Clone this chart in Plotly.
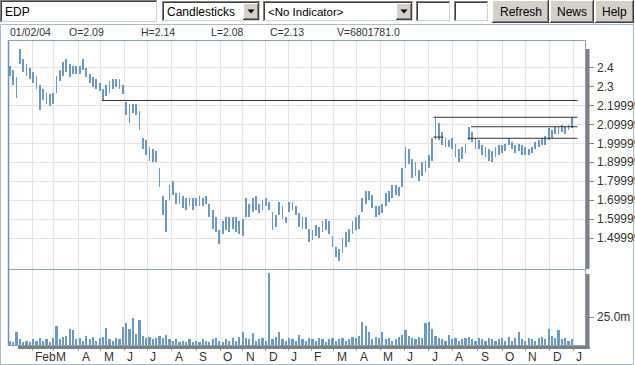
import numpy as np
import pandas as pd
import plotly.graph_objects as go

W, H = 635, 365
def X(px): return px / W
def Y(py): return 1 - py / H

# ---------------- data ----------------
holidays = ["2004-02-24", "2004-04-09", "2004-04-12", "2004-06-10", "2004-10-05",
            "2004-11-01", "2004-12-01", "2004-12-08", "2004-12-24",
            "2005-03-25", "2005-03-28", "2005-12-26"]

# one mark per 3 trading days (high / low in EUR, volume in millions)
highs = [2.41, 2.39, 2.35, 2.50, 2.45, 2.42, 2.40, 2.38, 2.36, 2.31,
         2.29, 2.27, 2.26, 2.27, 2.36, 2.39, 2.43, 2.45, 2.42, 2.41,
         2.41, 2.41, 2.45, 2.40, 2.37, 2.35, 2.34, 2.32,
         2.29, 2.31, 2.33, 2.34, 2.34, 2.34, 2.31, 2.22, 2.21, 2.21,
         2.21, 2.17, 2.03, 2.02, 1.98, 1.97, 1.96, 1.87, 1.72, 1.70,
         1.78, 1.80, 1.74, 1.74, 1.72, 1.71, 1.71, 1.71, 1.71, 1.72,
         1.71, 1.72, 1.68, 1.65, 1.61, 1.54, 1.59, 1.61, 1.61, 1.61,
         1.61,
         1.59, 1.60, 1.71, 1.68, 1.71, 1.72, 1.68, 1.70, 1.71,
         1.69, 1.64, 1.62, 1.69, 1.67, 1.61, 1.69, 1.69, 1.67, 1.63,
         1.61, 1.61, 1.55, 1.54, 1.57, 1.56, 1.59, 1.60, 1.59, 1.51,
         1.45, 1.44, 1.50, 1.53, 1.55, 1.59, 1.61, 1.62, 1.71, 1.75,
         1.75,
         1.73, 1.67, 1.67, 1.68, 1.74, 1.75, 1.78, 1.78,
         1.77, 1.87, 1.98, 1.97, 1.92, 1.90, 1.86, 1.90, 1.91, 1.94,
         2.03, 2.14, 2.11, 2.06, 2.03, 2.02, 2.03, 2.00, 1.97, 1.98,
         2.00, 2.09, 2.06, 2.03, 2.02, 1.99, 1.98, 1.97, 1.96, 1.98,
         1.99, 1.99, 2.00,
         2.03, 2.01, 1.99, 2.00, 1.99, 1.98,
         1.97, 1.98, 2.01, 2.02, 2.03, 2.04, 2.08, 2.07, 2.09, 2.09,
         2.10, 2.09, 2.10, 2.14]

lows = [2.36, 2.31, 2.24, 2.42, 2.38, 2.36, 2.34, 2.32, 2.29, 2.18,
        2.23, 2.21, 2.20, 2.21, 2.27, 2.33, 2.36, 2.38, 2.35, 2.37,
        2.37, 2.37, 2.39, 2.35, 2.32, 2.30, 2.29, 2.28,
        2.23, 2.25, 2.27, 2.29, 2.30, 2.29, 2.26, 2.15, 2.11, 2.16,
        2.15, 2.07, 1.97, 1.94, 1.91, 1.90, 1.90, 1.77, 1.62, 1.53,
        1.70, 1.73, 1.68, 1.68, 1.66, 1.65, 1.67, 1.65, 1.67, 1.67,
        1.67, 1.68, 1.61, 1.55, 1.53, 1.47, 1.52, 1.54, 1.53, 1.55,
        1.53,
        1.52, 1.51, 1.61, 1.61, 1.64, 1.65, 1.63, 1.65, 1.67,
        1.65, 1.54, 1.56, 1.62, 1.60, 1.58, 1.64, 1.65, 1.62, 1.56,
        1.55, 1.55, 1.48, 1.49, 1.51, 1.50, 1.53, 1.54, 1.52, 1.45,
        1.40, 1.38, 1.42, 1.45, 1.48, 1.52, 1.54, 1.55, 1.64, 1.68,
        1.70,
        1.66, 1.61, 1.62, 1.63, 1.67, 1.69, 1.71, 1.73,
        1.72, 1.77, 1.87, 1.89, 1.82, 1.83, 1.80, 1.83, 1.85, 1.87,
        1.91, 2.02, 2.02, 1.99, 1.98, 1.98, 1.97, 1.93, 1.90, 1.92,
        1.95, 2.02, 2.01, 1.97, 1.97, 1.94, 1.93, 1.91, 1.90, 1.93,
        1.94, 1.95, 1.96,
        1.99, 1.97, 1.95, 1.96, 1.94, 1.94,
        1.94, 1.95, 1.97, 1.98, 1.99, 1.99, 2.02, 2.03, 2.05, 2.05,
        2.06, 2.05, 2.07, 2.08]

volumes = [4, 3, 12, 5, 3, 4, 3, 5, 4, 6,
           4, 5, 3, 6, 17, 5, 7, 8, 14, 13,
           5, 6, 4, 8, 5, 7, 4, 6,
           7, 15, 5, 4, 6, 5, 16, 20, 14, 24,
           10, 22, 8, 6, 7, 5, 6, 8, 6, 9,
           5, 4, 5, 3, 4, 3, 5, 3, 4, 3,
           5, 4, 3, 5, 6, 4, 3, 5, 4, 6,
           4,
           7, 12, 6, 5, 11, 4, 5, 6, 4,
           64, 5, 7, 12, 5, 4, 6, 5, 4, 9,
           5, 4, 6, 5, 4, 6, 5, 3, 5, 6,
           4, 5, 6, 4, 5, 7, 6, 8, 21, 17,
           12,
           5, 7, 6, 12, 5, 6, 4, 5,
           7, 9, 13, 8, 6, 5, 7, 6, 20, 21,
           14, 8, 6, 5, 4, 9, 5, 6, 4, 5,
           6, 7, 5, 4, 6, 5, 4, 6, 5, 4,
           5, 6, 4,
           7, 4, 6, 12, 5, 4,
           6, 5, 4, 6, 7, 5, 14, 8, 6, 13,
           5, 6, 4, 5]

month_starts = pd.date_range("2004-02-01", "2006-01-01", freq="MS")
month_labels = ["Feb", "M", "A", "M", "J", "J", "A", "S", "O", "N", "D", "J",
                "F", "M", "A", "M", "J", "J", "A", "S", "O", "N", "D", "J"]

price_ticks = [2.4, 2.3, 2.2, 2.1, 2.0, 1.9, 1.8, 1.7, 1.6, 1.5]
price_tick_text = ["2.4", "2.3", "2.19999", "2.09999", "1.99999", "1.89999",
                   "1.79999", "1.69999", "1.59999", "1.49999"]
vol_ticks = [25]
vol_tick_text = ["25.0m"]

# drawn support / resistance lines
line_levels = [2.228, 2.139, 2.034, 2.089, 2.028]
line_starts = ["2004-05-04", "2005-07-07", "2005-07-07", "2005-08-24", "2005-08-19"]
line_ends = ["2006-01-06", "2006-01-06", "2005-07-20", "2006-01-06", "2006-01-06"]

info_texts = ["01/02/04", "O=2.09", "H=2.14", "L=2.08", "C=2.13", "V=6801781.0"]

# ---------------- scales ----------------
tdays = pd.bdate_range("2004-01-02", "2005-12-30", freq="C", holidays=holidays)

def pos(d):
    d = pd.Timestamp(d)
    if d <= tdays[-1]:
        return int(tdays.searchsorted(d))
    return len(tdays) - 1 + int(np.busday_count(tdays[-1].date(), d.date()))

xpos = np.arange(len(tdays))[1::3]
n = len(xpos)
assert len(highs) == n and len(lows) == n and len(volumes) == n, (n, len(highs), len(lows), len(volumes))
highs = np.array(highs); lows = np.array(lows)
month_pos = [pos(d) for d in month_starts]

BLUE = "#6a99c2"
GRID = "#e3e3e3"
BORDER = "#86a2be"
TXT = "#333333"
FONT = "Liberation Sans, Arial, sans-serif"

fig = go.Figure()
fig.add_trace(go.Bar(x=xpos, y=highs - lows, base=lows, width=1.6,
                     marker=dict(color=BLUE, line=dict(width=0)),
                     xaxis="x", yaxis="y", hoverinfo="skip"))
fig.add_trace(go.Bar(x=xpos, y=volumes, width=2.0,
                     marker=dict(color=BLUE, line=dict(width=0)),
                     xaxis="x", yaxis="y2", hoverinfo="skip"))

shapes = []
# trend lines
for lv, s, e in zip(line_levels, line_starts, line_ends):
    shapes.append(dict(type="line", xref="x", yref="y", x0=pos(s), x1=pos(e),
                       y0=lv, y1=lv, line=dict(color="#333333", width=1), layer="above"))

def prect(x0, y0, x1, y1, fill=None, line=None, lw=1):
    d = dict(type="rect", xref="paper", yref="paper", x0=X(x0), x1=X(x1),
             y0=Y(y1), y1=Y(y0), layer="above")
    d["fillcolor"] = fill if fill else "rgba(0,0,0,0)"
    d["line"] = dict(color=line, width=lw) if line else dict(width=0)
    return d

def pline(x0, y0, x1, y1, color, lw=1):
    return dict(type="line", xref="paper", yref="paper", x0=X(x0), x1=X(x1),
                y0=Y(y0), y1=Y(y1), line=dict(color=color, width=lw), layer="above")

# panel frames and shadows
shapes.append(prect(585.5, 49, 589.5, 269, fill="#7f7f7f"))
shapes.append(prect(585.5, 274, 589.5, 349, fill="#7f7f7f"))
shapes.append(prect(18, 345.5, 589.5, 349, fill="#7f7f7f"))
shapes.append(prect(8.5, 40.5, 585.5, 269.5, line=BORDER))
shapes.append(prect(8.5, 269.5, 585.5, 345.5, line=BORDER))
shapes.append(pline(8.5, 40.5, 8.5, 345.5, "#6f93b6", 1.5))
# outer frame
shapes.append(prect(0.5, 24.5, 633.5, 364.5, line="#a5bccf"))

# toolbar widgets
def sunken(x0, y0, x1, y1):
    out = [prect(x0, y0, x1, y1, fill="white")]
    out += [pline(x0, y0 + 0.5, x1, y0 + 0.5, "#808080"), pline(x0 + 0.5, y0, x0 + 0.5, y1, "#808080"),
            pline(x0 + 1, y0 + 1.5, x1 - 1, y0 + 1.5, "#404040"), pline(x0 + 1.5, y0 + 1, x0 + 1.5, y1 - 1, "#404040"),
            pline(x0, y1 - 0.5, x1, y1 - 0.5, "#ffffff"), pline(x1 - 0.5, y0, x1 - 0.5, y1, "#ffffff"),
            pline(x0 + 1, y1 - 1.5, x1 - 1, y1 - 1.5, "#d4d0c8"), pline(x1 - 1.5, y0 + 1, x1 - 1.5, y1 - 1, "#d4d0c8")]
    return out

def raised(x0, y0, x1, y1):
    out = [prect(x0, y0, x1, y1, fill="#d4d0c8")]
    out += [pline(x0, y0 + 0.5, x1, y0 + 0.5, "#ffffff"), pline(x0 + 0.5, y0, x0 + 0.5, y1, "#ffffff"),
            pline(x0, y1 - 0.5, x1, y1 - 0.5, "#404040"), pline(x1 - 0.5, y0, x1 - 0.5, y1, "#404040"),
            pline(x0 + 1, y1 - 1.5, x1 - 1, y1 - 1.5, "#808080"), pline(x1 - 1.5, y0 + 1, x1 - 1.5, y1 - 1, "#808080")]
    return out

def arrow(cx, cy):
    return dict(type="path", xref="paper", yref="paper",
                path=f"M {X(cx-3.5)} {Y(cy-2)} L {X(cx+3.5)} {Y(cy-2)} L {X(cx)} {Y(cy+2)} Z",
                fillcolor="black", line=dict(width=0), layer="above")

shapes += sunken(0, 0, 158, 23)
shapes += sunken(162, 1, 261, 22)
shapes += raised(243, 3, 259, 20)
shapes.append(arrow(251, 11.5))
shapes += sunken(263, 1, 414, 22)
shapes += raised(396, 3, 412, 20)
shapes.append(arrow(404, 11.5))
shapes += sunken(416, 1, 451, 22)
shapes += sunken(454, 1, 489, 22)
shapes += raised(492, 0, 549, 23)
shapes += raised(550, 0, 594, 23)
shapes += raised(595, 0, 634, 23)

ann = []
def txt(text, x, y, size=12, color="black", anchor="left", font=FONT):
    ann.append(dict(text=text, x=X(x), y=Y(y), xref="paper", yref="paper",
                    xanchor=anchor, yanchor="middle", showarrow=False,
                    font=dict(size=size, color=color, family=font)))

txt("EDP", 3, 11.5, 12)
txt("Candlesticks", 165, 12, 12)
txt("<No Indicator>", 266, 12, 11.5)
txt("Refresh", 520.5, 11.5, 12, anchor="center")
txt("News", 572, 11.5, 12, anchor="center")
txt("Help", 614.5, 11.5, 12, anchor="center")

info_x = [8, 67, 139, 209, 268, 335]
for t, xx in zip(info_texts, info_x):
    txt(t, xx, 31.5, 10.5, TXT, font="Liberation Sans Narrow, Liberation Sans, Arial, sans-serif")

for v, t in zip(price_ticks, price_tick_text):
    ann.append(dict(text=t, x=X(595), y=v, xref="paper", yref="y", xanchor="left",
                    yanchor="middle", showarrow=False, font=dict(size=12, color=TXT, family=FONT)))
for v, t in zip(vol_ticks, vol_tick_text):
    ann.append(dict(text=t, x=X(595), y=v, xref="paper", yref="y2", xanchor="left",
                    yanchor="middle", showarrow=False, font=dict(size=12, color=TXT, family=FONT)))
for p, t in zip(month_pos, month_labels):
    ann.append(dict(text=t, x=p, y=Y(357), xref="x", yref="paper", xanchor="left",
                    yanchor="middle", xshift=1, showarrow=False,
                    font=dict(size=12, color=TXT, family=FONT)))

px_per_day = (573 - 32) / (month_pos[-1] - month_pos[0])
x_lo = month_pos[0] - (32 - 8) / px_per_day
x_hi = month_pos[0] + (585 - 32) / px_per_day

fig.update_layout(
    width=W, height=H, margin=dict(l=0, r=0, t=0, b=0),
    paper_bgcolor="white", plot_bgcolor="white", showlegend=False,
    barmode="overlay", bargap=0, hovermode=False,
    xaxis=dict(domain=[X(8), X(585)], range=[x_lo, x_hi], anchor="y2",
               tickvals=month_pos, showticklabels=False, ticks="outside", ticklen=5,
               tickcolor="#999999", showgrid=True, gridcolor=GRID, gridwidth=1,
               zeroline=False, showline=False, fixedrange=True),
    yaxis=dict(domain=[Y(269), Y(40)], range=[1.336, 2.548], anchor="x", side="right",
               tickvals=price_ticks, showticklabels=False, ticks="outside", ticklen=8,
               tickcolor="#888888", showgrid=True, gridcolor=GRID, gridwidth=1,
               zeroline=False, showline=False, fixedrange=True),
    yaxis2=dict(domain=[Y(345), Y(269)], range=[0, 68], anchor="x", side="right",
                tickvals=vol_ticks, showticklabels=False, ticks="outside", ticklen=8,
                tickcolor="#888888", showgrid=False, zeroline=False, showline=False,
                fixedrange=True),
    shapes=shapes, annotations=ann,
)

fig.write_html("out.html", config={"displayModeBar": False, "staticPlot": True},
               post_script="document.body.style.margin='0';document.body.style.overflow='hidden';")
